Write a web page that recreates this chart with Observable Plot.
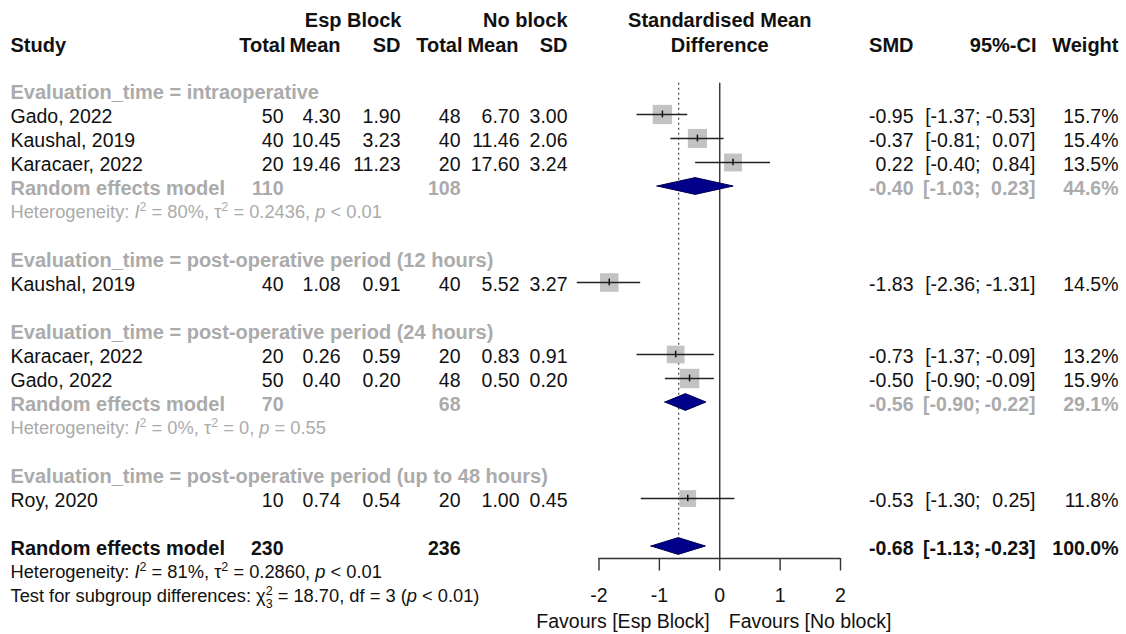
<!DOCTYPE html>
<html><head><meta charset="utf-8">
<script src="https://cdn.jsdelivr.net/npm/d3@7"></script>
<script src="https://cdn.jsdelivr.net/npm/@observablehq/plot@0.6"></script>
<style>
body{margin:0;background:#fff;}
svg text{white-space:pre;}
</style>
</head><body><div id="chart"></div>
<script>
// ---------------- data ----------------
const groupLabels = [
  "Evaluation_time = intraoperative",
  "Evaluation_time = post-operative period (12 hours)",
  "Evaluation_time = post-operative period (24 hours)",
  "Evaluation_time = post-operative period (up to 48 hours)"
];
const studyNames = ["Gado, 2022","Kaushal, 2019","Karacaer, 2022","Kaushal, 2019","Karacaer, 2022","Gado, 2022","Roy, 2020"];
const studyGroup = [0,0,0,1,2,2,3];
const eTotal = [50,40,20,40,20,50,10];
const eMean  = [4.30,10.45,19.46,1.08,0.26,0.40,0.74];
const eSD    = [1.90,3.23,11.23,0.91,0.59,0.20,0.54];
const cTotal = [48,40,20,40,20,48,20];
const cMean  = [6.70,11.46,17.60,5.52,0.83,0.50,1.00];
const cSD    = [3.00,2.06,3.24,3.27,0.91,0.20,0.45];
const smd    = [-0.95,-0.37,0.22,-1.83,-0.73,-0.50,-0.53];
const lower  = [-1.37,-0.81,-0.40,-2.36,-1.37,-0.90,-1.30];
const upper  = [-0.53,0.07,0.84,-1.31,-0.09,-0.09,0.25];
const weight = [15.7,15.4,13.5,14.5,13.2,15.9,11.8];

// subgroup random effects (null = single-study subgroup)
const reTotalE = [110,null,70,null];
const reTotalC = [108,null,68,null];
const reSmd    = [-0.40,null,-0.56,null];
const reLower  = [-1.03,null,-0.90,null];
const reUpper  = [0.23,null,-0.22,null];
const reWeight = [44.6,null,29.1,null];
const hetI2    = ["80%",null,"0%",null];
const hetTau2  = ["0.2436",null,"0",null];
const hetP     = ["< 0.01",null,"= 0.55",null];

// overall
const overallTotalE = 230, overallTotalC = 236;
const overallSmd = -0.68, overallLower = -1.13, overallUpper = -0.23, overallWeight = 100.0;
const overallHet = {I2: "81%", tau2: "0.2860", p: "< 0.01"};
const subgroupTest = {chi2: "18.70", df: 3, p: "< 0.01"};

const xTicks = [-2,-1,0,1,2];
const colHeaders = ["Study","Total","Mean","SD","Total","Mean","SD","SMD","95%-CI","Weight"];
const armHeaders = ["Esp Block","No block"];
const effectHeader = ["Standardised Mean","Difference"];
const favourLabels = ["Favours [Esp Block]","Favours [No block]"];
const modelLabel = "Random effects model";

// ---------------- layout (pixels / style) ----------------
const W = 1126, H = 634;
const FS = 19.5, FSB = 20, FS_SMALL = 18.3;
const BLACK = "#111", GRAY = "#ababab";
const headerRight = [null,285,340,400,462,518,567,913,1036,1118];
const armRight = [401,567];
const pos = {study:10, eTot:283, eMean:340, eSD:400, cTot:460, cMean:519, cSD:567, smd:913, ciLo:980, ciHi:1035, w:1118};

// ---------------- rows ----------------
const f2 = v => v.toFixed(2);
const studyRows = [], groupRows = [], reRows = [], hetRows = [];
let r = 0;
groupLabels.forEach((g, gi) => {
  groupRows.push({r, label: g});
  r++;
  studyNames.forEach((s, i) => {
    if (studyGroup[i] !== gi) return;
    studyRows.push({r, name: s, eTot: eTotal[i], eMean: f2(eMean[i]), eSD: f2(eSD[i]),
      cTot: cTotal[i], cMean: f2(cMean[i]), cSD: f2(cSD[i]),
      smd: smd[i], lower: lower[i], upper: upper[i], weight: weight[i]});
    r++;
  });
  if (reSmd[gi] !== null) {
    reRows.push({r, overall: false, eTot: reTotalE[gi], cTot: reTotalC[gi], smd: reSmd[gi], lower: reLower[gi], upper: reUpper[gi], weight: reWeight[gi]});
    r++;
    hetRows.push({r, overall: false, text: `Heterogeneity: I² = ${hetI2[gi]}, τ² = ${hetTau2[gi]}, p ${hetP[gi]}`});
    r++;
  }
  r++;
});
reRows.push({r, overall: true, eTot: overallTotalE, cTot: overallTotalC, smd: overallSmd, lower: overallLower, upper: overallUpper, weight: overallWeight});
hetRows.push({r: r + 1, overall: true, text: `Heterogeneity: I² = ${overallHet.I2}, τ² = ${overallHet.tau2}, p ${overallHet.p}`});
hetRows.push({r: r + 2, overall: true, text: `Test for subgroup differences: χ²₃ = ${subgroupTest.chi2}, df = ${subgroupTest.df} (p ${subgroupTest.p})`});
const overallRow = r;
const axisRow = overallRow + 0.5;
const lastRow = overallRow + 2;

const DH = 0.35; // diamond half height (rows)
const diamondPts = reRows.flatMap((d, i) => [
  {id: i, x: d.lower, y1: d.r, y2: d.r},
  {id: i, x: d.smd, y1: d.r - DH, y2: d.r + DH},
  {id: i, x: d.upper, y1: d.r, y2: d.r}
]);

const ciLo = d => `[${f2(d.lower)};`;
const ciHi = d => `${f2(d.upper)}]`;
const colorOf = d => d.overall ? BLACK : GRAY;

const txt = (data, o) => Plot.text(data, {frameAnchor: "left", fontSize: FS, dy: 2, fill: BLACK, ...o});

const marks = [];
// headers
const hb = {fontWeight: "bold", fontSize: FSB};
marks.push(txt([colHeaders[0]], {...hb, y: -1.97, text: d => d, dx: pos.study, textAnchor: "start"}));
colHeaders.slice(1).forEach((h, i) => {
  marks.push(txt([h], {...hb, y: -1.97, text: d => d, dx: headerRight[i + 1], textAnchor: "end"}));
});
armHeaders.forEach((h, i) => marks.push(txt([h], {...hb, y: -3.0, text: d => d, dx: armRight[i], textAnchor: "end"})));
marks.push(Plot.text([effectHeader[0]], {x: 0, y: -3.0, text: d => d, fontSize: FSB, dy: 2, fontWeight: "bold", fill: BLACK}));
marks.push(Plot.text([effectHeader[1]], {x: 0, y: -1.97, text: d => d, fontSize: FSB, dy: 2, fontWeight: "bold", fill: BLACK}));

// reference lines
marks.push(Plot.ruleX([overallSmd], {y1: -0.3, y2: overallRow - DH, stroke: "#333", strokeWidth: 1.1, strokeDasharray: "2,3"}));
marks.push(Plot.ruleX([0], {y1: -0.3, y2: axisRow, stroke: "#333", strokeWidth: 1.4}));
marks.push(Plot.ruleY([axisRow], {x1: d3.min(xTicks), x2: d3.max(xTicks), stroke: "#333", strokeWidth: 1.4}));
marks.push(Plot.axisX({ticks: xTicks, tickFormat: d => String(d), tickSize: 12.5, tickPadding: 17, fontSize: FS, label: null, stroke: "#333", strokeWidth: 1.4, fill: BLACK}));

// study squares and CIs
marks.push(Plot.dot(studyRows, {x: "smd", y: "r", r: "weight", symbol: "square", fill: "#c3c3c3", stroke: "none"}));
marks.push(Plot.ruleY(studyRows, {y: "r", x1: "lower", x2: "upper", stroke: "#222", strokeWidth: 1.5}));
marks.push(Plot.ruleX(studyRows, {x: "smd", y1: d => d.r - 0.14, y2: d => d.r + 0.14, stroke: "#111", strokeWidth: 1.5}));

// diamonds
marks.push(Plot.areaY(diamondPts, {x: "x", y1: "y1", y2: "y2", z: "id", fill: "#00008b", stroke: "#000050", strokeWidth: 1, curve: "linear"}));

// group labels
marks.push(txt(groupRows, {y: "r", text: "label", dx: pos.study, textAnchor: "start", fontWeight: "bold", fontSize: FSB, fill: GRAY}));
// study rows
marks.push(txt(studyRows, {y: "r", text: "name", dx: pos.study, textAnchor: "start"}));
["eTot","eMean","eSD","cTot","cMean","cSD"].forEach(k =>
  marks.push(txt(studyRows, {y: "r", text: d => String(d[k]), dx: pos[k], textAnchor: "end"})));
marks.push(txt(studyRows, {y: "r", text: d => f2(d.smd), dx: pos.smd, textAnchor: "end"}));
marks.push(txt(studyRows, {y: "r", text: ciLo, dx: pos.ciLo, textAnchor: "end"}));
marks.push(txt(studyRows, {y: "r", text: ciHi, dx: pos.ciHi, textAnchor: "end"}));
marks.push(txt(studyRows, {y: "r", text: d => d.weight.toFixed(1) + "%", dx: pos.w, textAnchor: "end"}));

// random effects rows
const bold = {fontWeight: "bold", fill: colorOf, y: "r"};
marks.push(txt(reRows, {...bold, fontSize: FSB, text: () => modelLabel, dx: pos.study, textAnchor: "start"}));
marks.push(txt(reRows, {...bold, text: d => String(d.eTot), dx: pos.eTot, textAnchor: "end"}));
marks.push(txt(reRows, {...bold, text: d => String(d.cTot), dx: pos.cTot, textAnchor: "end"}));
marks.push(txt(reRows, {...bold, text: d => f2(d.smd), dx: pos.smd, textAnchor: "end"}));
marks.push(txt(reRows, {...bold, text: ciLo, dx: pos.ciLo, textAnchor: "end"}));
marks.push(txt(reRows, {...bold, text: ciHi, dx: pos.ciHi, textAnchor: "end"}));
marks.push(txt(reRows, {...bold, text: d => d.weight.toFixed(1) + "%", dx: pos.w, textAnchor: "end"}));

// heterogeneity
marks.push(txt(hetRows, {y: "r", text: "text", dx: pos.study, textAnchor: "start", fontSize: FS_SMALL, fill: colorOf}));

// favours labels
marks.push(Plot.text([favourLabels[0]], {x: 0, y: lastRow + 1.07, text: d => d, textAnchor: "end", dx: -10, dy: 2, fontSize: FS, fill: BLACK}));
marks.push(Plot.text([favourLabels[1]], {x: 0, y: lastRow + 1.07, text: d => d, textAnchor: "start", dx: 9, dy: 2, fontSize: FS, fill: BLACK}));

const chart = Plot.plot({
  width: W, height: H,
  marginLeft: 0, marginRight: 0, marginTop: 0, marginBottom: H - 558,
  style: {fontFamily: "Arial, 'Liberation Sans', sans-serif", background: "#fff", color: BLACK},
  x: {domain: [-2, 2], range: [598.5, 840]},
  y: {domain: [0, lastRow], range: [90, 90 + 24 * lastRow], axis: null},
  r: {type: "sqrt", domain: [0, 16], range: [0, 11]},
  marks
});
document.getElementById("chart").appendChild(chart);

// rich text for heterogeneity / test lines (italics, super/subscripts)
const NS = "http://www.w3.org/2000/svg";
chart.querySelectorAll("text").forEach(el => {
  const s = el.textContent;
  if (!/^(Heterogeneity|Test for)/.test(s)) return;
  const parts = s.split(/(I²|τ²|χ²₃|\bp\b)/).filter(p => p !== "");
  el.textContent = "";
  let offset = 0;
  const add = (t, o = {}) => {
    const ts = document.createElementNS(NS, "tspan");
    ts.textContent = t;
    const target = o.shift || 0;
    if (target !== offset) { ts.setAttribute("dy", target - offset); offset = target; }
    if (o.dx) ts.setAttribute("dx", o.dx);
    if (o.italic) ts.setAttribute("font-style", "italic");
    if (o.small) ts.setAttribute("font-size", "12.5");
    el.appendChild(ts);
  };
  parts.forEach(p => {
    if (p === "I²") { add("I", {italic: true}); add("2", {small: true, shift: -7.5}); }
    else if (p === "τ²") { add("τ"); add("2", {small: true, shift: -7.5}); }
    else if (p === "χ²₃") { add("χ"); add("2", {small: true, shift: -7.5}); add("3", {small: true, shift: 6, dx: -7}); }
    else if (p === "p") add("p", {italic: true});
    else add(p);
  });
});
</script>
</body></html>
